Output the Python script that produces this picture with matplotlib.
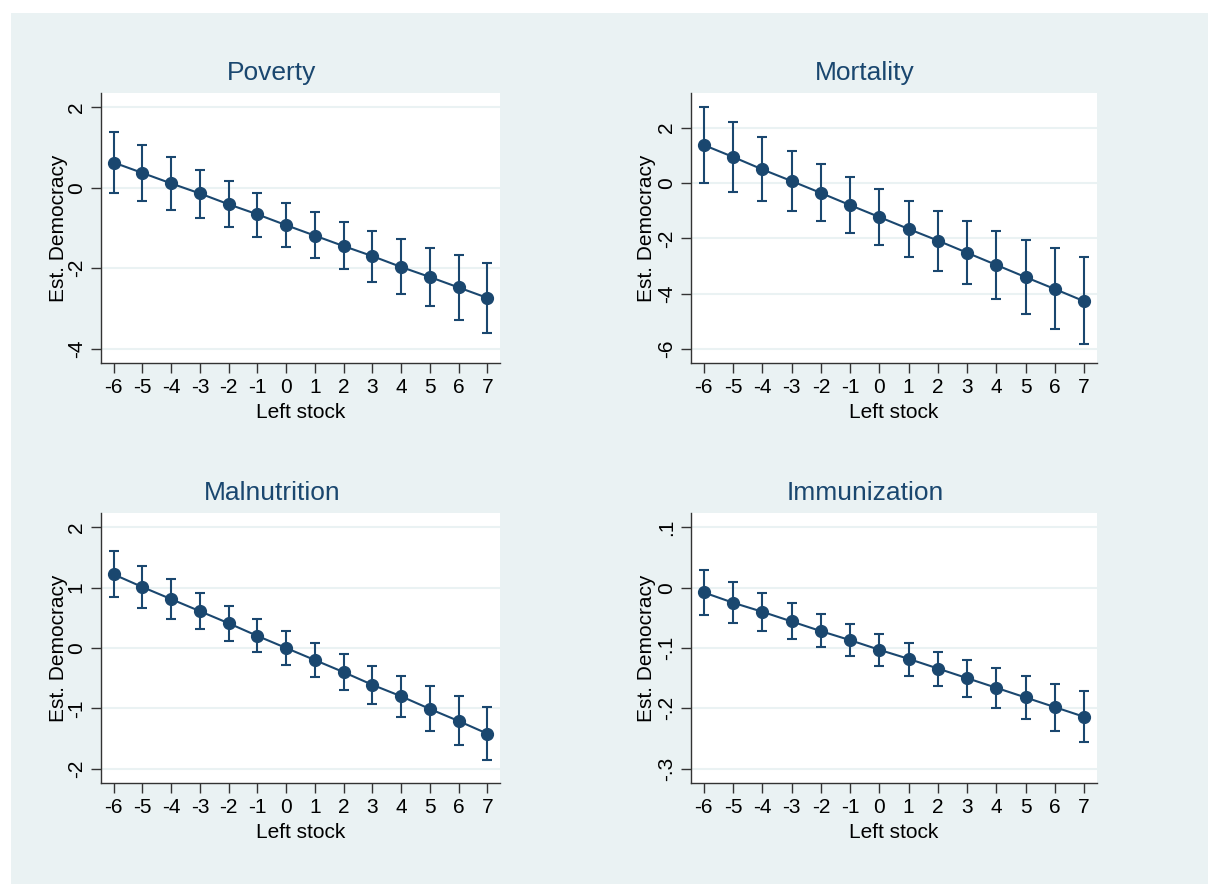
import matplotlib
matplotlib.use("Agg")
import matplotlib.pyplot as plt
from matplotlib.patches import Rectangle

plt.rcParams['font.family'] = ['Liberation Sans', 'DejaVu Sans']

# Данные: значение стока левых и оценки с доверительными интервалами
left_stock = [-6, -5, -4, -3, -2, -1, 0, 1, 2, 3, 4, 5, 6, 7]

poverty_est = [0.63, 0.37, 0.11, -0.14, -0.41, -0.66, -0.93, -1.19, -1.45, -1.70, -1.97, -2.22, -2.48, -2.74]
poverty_hi = [1.39, 1.06, 0.76, 0.45, 0.17, -0.12, -0.37, -0.61, -0.85, -1.07, -1.28, -1.49, -1.68, -1.87]
poverty_lo = [-0.12, -0.32, -0.54, -0.75, -0.98, -1.22, -1.48, -1.75, -2.03, -2.34, -2.65, -2.95, -3.28, -3.61]

mortality_est = [1.37, 0.94, 0.49, 0.07, -0.36, -0.80, -1.23, -1.66, -2.08, -2.52, -2.96, -3.40, -3.83, -4.27]
mortality_hi = [2.73, 2.19, 1.67, 1.16, 0.67, 0.22, -0.23, -0.64, -1.01, -1.37, -1.72, -2.05, -2.36, -2.67]
mortality_lo = [0.0, -0.31, -0.65, -1.01, -1.39, -1.80, -2.23, -2.67, -3.16, -3.66, -4.19, -4.72, -5.28, -5.83]

malnut_est = [1.22, 1.01, 0.81, 0.61, 0.41, 0.20, 0.0, -0.20, -0.40, -0.61, -0.80, -1.01, -1.21, -1.42]
malnut_hi = [1.60, 1.36, 1.14, 0.91, 0.70, 0.48, 0.28, 0.09, -0.10, -0.29, -0.46, -0.63, -0.80, -0.97]
malnut_lo = [0.84, 0.67, 0.48, 0.31, 0.12, -0.07, -0.28, -0.48, -0.70, -0.93, -1.15, -1.38, -1.61, -1.85]

immun_est = [-0.008, -0.025, -0.040, -0.056, -0.072, -0.087, -0.103, -0.118, -0.134, -0.150, -0.166, -0.182, -0.198, -0.214]
immun_hi = [0.029, 0.009, -0.009, -0.026, -0.044, -0.061, -0.076, -0.091, -0.106, -0.120, -0.133, -0.146, -0.159, -0.171]
immun_lo = [-0.045, -0.058, -0.072, -0.085, -0.099, -0.114, -0.130, -0.146, -0.163, -0.181, -0.199, -0.217, -0.237, -0.256]

titles = ['Poverty', 'Mortality', 'Malnutrition', 'Immunization']
yticks_list = [[2, 0, -2, -4], [2, 0, -2, -4, -6], [2, 1, 0, -1, -2], [0.1, 0, -0.1, -0.2, -0.3]]
ytick_labels_list = [['2', '0', '-2', '-4'], ['2', '0', '-2', '-4', '-6'],
                     ['2', '1', '0', '-1', '-2'], ['.1', '0', '-.1', '-.2', '-.3']]
ylims = [(-4.36, 2.36), (-6.5, 3.25), (-2.237, 2.237), (-0.3237, 0.1237)]

NAVY = '#1a476f'
BG = '#eaf2f3'
W, H = 1208, 884

fig = plt.figure(figsize=(W / 100, H / 100), dpi=100, facecolor='white')
fig.patches.append(Rectangle((11 / W, 0), 1 - 11 / W, 1 - 13 / H, transform=fig.transFigure,
                             facecolor=BG, edgecolor='none', zorder=-10))

# позиции панелей в пикселях: (left, top, right, bottom)
boxes = [(101, 93, 500, 363), (691, 93, 1097, 363), (101, 513, 500, 783), (691, 513, 1097, 783)]
title_pos = [(272, 73), (865, 73), (272, 493), (865, 493)]
ylabel_x = [58, 647, 58, 647]
xlabel_gap = 50  # расстояние подписи оси X от нижней границы, px

series = [(poverty_est, poverty_lo, poverty_hi), (mortality_est, mortality_lo, mortality_hi),
          (malnut_est, malnut_lo, malnut_hi), (immun_est, immun_lo, immun_hi)]

for i, (est, lo, hi) in enumerate(series):
    l, t, r, b = boxes[i]
    ax = fig.add_axes([l / W, 1 - b / H, (r - l) / W, (b - t) / H])
    ax.set_facecolor('white')

    yerr = [[e - a for e, a in zip(est, lo)], [h - e for e, h in zip(est, hi)]]
    ax.errorbar(left_stock, est, yerr=yerr, fmt='none', ecolor=NAVY, elinewidth=1.5,
                capsize=3.6, capthick=1.5, zorder=3)
    ax.plot(left_stock, est, '-', color=NAVY, lw=1.5, zorder=4)
    ax.plot(left_stock, est, 'o', color=NAVY, ms=8.5, zorder=5)

    ax.set_xlim(-6.44, 7.44)
    ax.set_ylim(*ylims[i])
    ax.set_xticks(left_stock)
    ax.set_xticklabels([str(v) for v in left_stock])
    ax.set_yticks(yticks_list[i])
    ax.set_yticklabels(ytick_labels_list[i], rotation=90, va='center')
    ax.tick_params(axis='both', length=7, width=1, color='#333333', labelsize=15, pad=4)
    ax.yaxis.grid(True, color=BG, lw=1.5, zorder=0)
    ax.set_axisbelow(True)

    for s in ['top', 'right']:
        ax.spines[s].set_visible(False)
    for s in ['left', 'bottom']:
        ax.spines[s].set_color('#333333')
        ax.spines[s].set_linewidth(1.0)

    ax.set_ylabel('Est. Democracy', fontsize=15)
    ax.yaxis.set_label_coords(-(l - ylabel_x[i]) / (r - l), 0.5)
    ax.yaxis.label.set_verticalalignment('center')
    ax.set_xlabel('Left stock', fontsize=15)
    ax.xaxis.set_label_coords(0.5, -xlabel_gap / (b - t))
    ax.xaxis.label.set_verticalalignment('center')

    tx, ty = title_pos[i]
    fig.text(tx / W, 1 - ty / H, titles[i], color=NAVY, fontsize=19, ha='center', va='center')

fig.savefig('out.png', dpi=100, facecolor='white')
